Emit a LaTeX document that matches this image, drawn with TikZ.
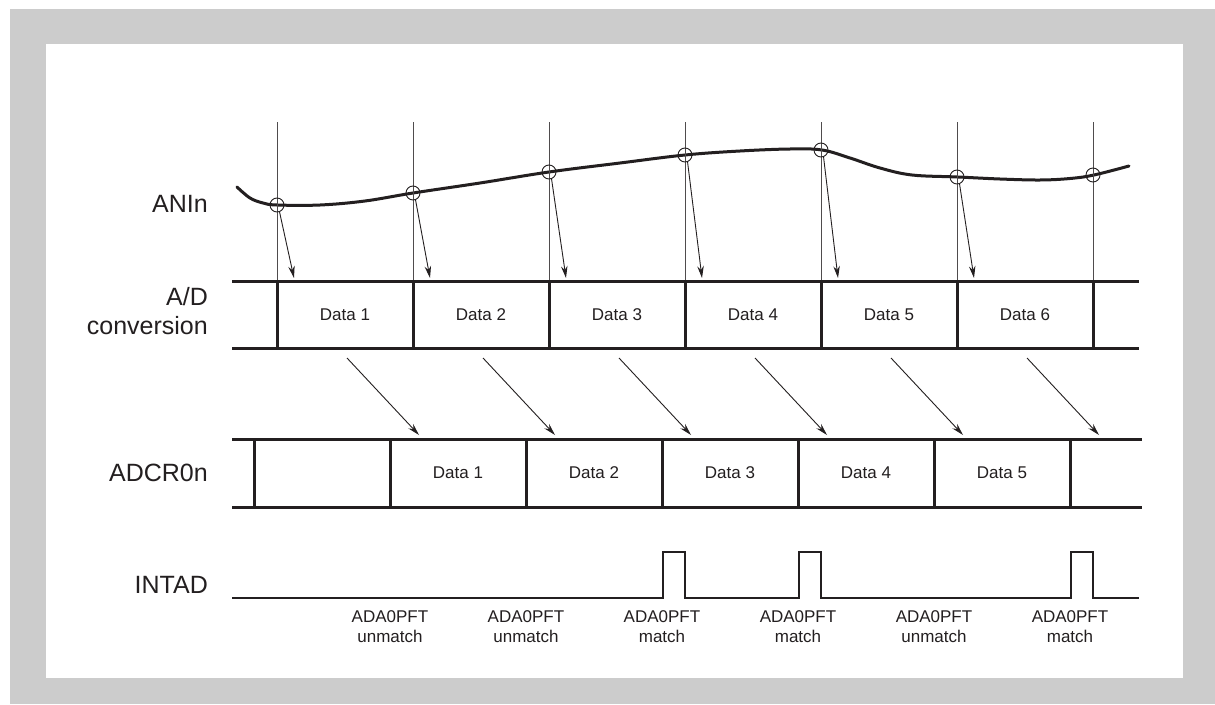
\documentclass[tikz,border=0pt]{standalone}
\usepackage{fontspec}
\setmainfont{Liberation Sans}
\usetikzlibrary{arrows.meta}

\definecolor{ink}{HTML}{231F20}
\definecolor{framegray}{HTML}{CCCCCC}

\tikzset{
  sigline/.style={line width=3pt, color=ink},
  sampline/.style={line width=1pt, color=ink!80},
  arr/.style={-{Stealth[length=12pt,width=6.5pt]}, line width=0.9pt, color=ink},
  smp/.style={circle, draw=ink, line width=0.9pt, minimum size=14pt, inner sep=0pt},
  lbl/.style={anchor=east, align=right, text=ink, inner sep=0pt, font=\fontsize{25}{29}\selectfont},
  dat/.style={text=ink, inner sep=0pt, font=\fontsize{17}{20}\selectfont},
  flag/.style={text=ink, align=center, inner sep=0pt, font=\fontsize{17}{20}\selectfont},
}

\begin{document}
\begin{tikzpicture}[x=1pt,y=-1pt]
    \useasboundingbox (0,0) rectangle (1215,704);
    \fill[framegray] (10,9) rectangle (1215,704);
    \fill[white] (46,44) rectangle (1183,678);

    % signal names
    \node[lbl] (anin) at (208,204) {ANIn};
    \node[lbl] (adconv) at (208,311) {A/D\\conversion};
    \node[lbl] (adcr) at (208,473) {ADCR0n};
    \node[lbl] (intad) at (208,585) {INTAD};

    % analog input and sampling instants
    \draw[line width=3pt, ink, line cap=round] plot[smooth, tension=0.6] coordinates {
      (237,187) (250,198) (263,203) (277,205) (320,205) (365,201) (413,193)
      (480,183) (549,172) (620,163) (685,155) (740,151) (790,149) (822,150)
      (850,158) (880,168) (912,175) (958,177) (1000,179) (1040,180) (1070,178.5)
      (1094,175) (1129,166)};
    \foreach \i/\y in {1/205,2/193,3/172,4/155,5/150,6/177,7/175} {
      \draw[sampline] ({277+136*(\i-1)},122) -- ({277+136*(\i-1)},348);
      \node[smp] (smp\i) at ({277+136*(\i-1)},\y) {};
    }
    \foreach \i in {1,...,6} {
      \coordinate (adin\i) at ({294+136*(\i-1)},278);
      \draw[arr] (smp\i.-70) -- (adin\i);
    }

    % A/D conversion row
    \draw[sigline] (232,281) -- (1139,281) (232,348) -- (1139,348);
    \foreach \i in {0,...,6}
      \draw[sigline] ({277+136*\i},281) -- ({277+136*\i},348);
    \foreach \i in {1,...,6}
      \node[dat] (ad\i) at ({345+136*(\i-1)},314.5) {Data \i};

    % transfer to ADCR0n
    \foreach \i in {1,...,6} {
      \coordinate (mv\i) at ({347+136*(\i-1)},358);
      \coordinate (rg\i) at ({419+136*(\i-1)},435);
      \draw[arr] (mv\i) -- (rg\i);
    }

    % ADCR0n row
    \draw[sigline] (232,439) -- (1142,439) (232,507) -- (1142,507);
    \foreach \i in {0,...,6}
      \draw[sigline] ({254+136*\i},439) -- ({254+136*\i},507);
    \foreach \i in {1,...,5}
      \node[dat] (reg\i) at ({458+136*(\i-1)},473) {Data \i};

    % INTAD
    \draw[line width=2.8pt, ink, line join=miter]
      (232,598) -- (663,598) -- (663,552) -- (685,552) -- (685,598)
      -- (799,598) -- (799,552) -- (821,552) -- (821,598)
      -- (1071,598) -- (1071,552) -- (1093,552) -- (1093,598) -- (1139,598);
    \foreach \x/\t in {390/unmatch,526/unmatch,662/match,798/match,934/unmatch,1070/match}
      \node[flag] (pft\x) at (\x,627) {ADA0PFT\\\t};
\end{tikzpicture}
\end{document}
